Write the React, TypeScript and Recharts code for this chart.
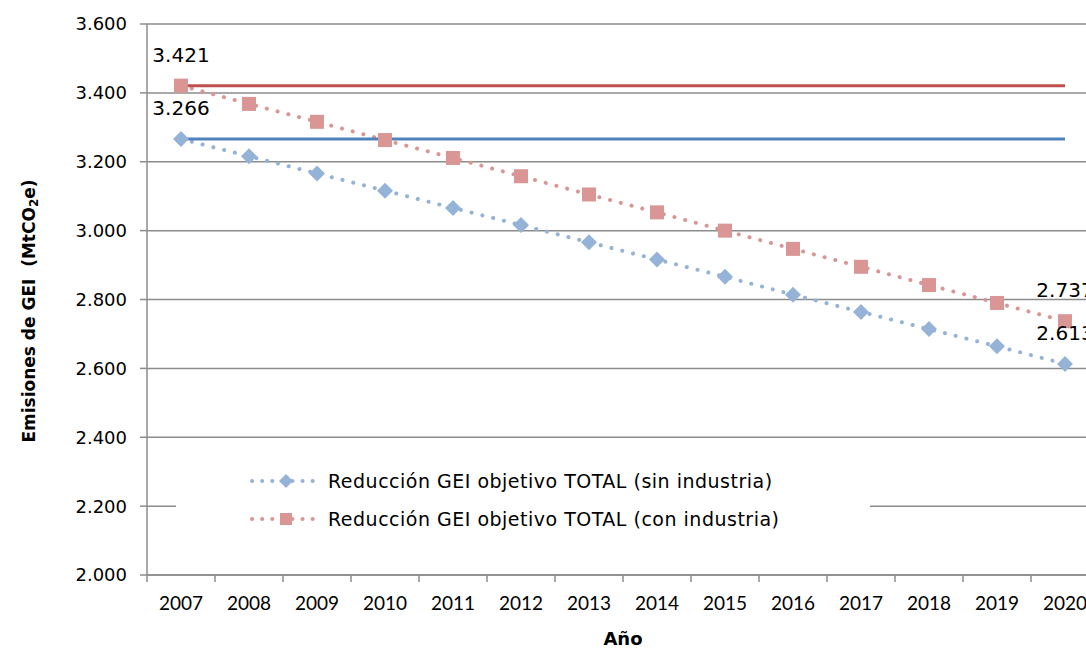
import React from "react";
import {
  LineChart,
  Line,
  XAxis,
  YAxis,
  CartesianGrid,
  LabelList,
} from "recharts";

// años del eje X
const years = [
  "2007", "2008", "2009", "2010", "2011", "2012", "2013",
  "2014", "2015", "2016", "2017", "2018", "2019", "2020",
];

// objetivo de reducción sin industria (diamantes azules)
const sinIndustria = [
  3266, 3216, 3166, 3116, 3066, 3016, 2966, 2916, 2866, 2814, 2764, 2714, 2664, 2613,
];

// objetivo de reducción con industria (cuadrados rojos)
const conIndustria = [
  3421, 3368, 3316, 3263, 3211, 3158, 3105, 3053, 3000, 2947, 2895, 2842, 2790, 2737,
];

// niveles de referencia 2007 (líneas horizontales)
const baseSin = 3266;
const baseCon = 3421;

const yTicks = [2000, 2200, 2400, 2600, 2800, 3000, 3200, 3400, 3600];
const xEdges = [0, 1, 2, 3, 4, 5, 6, 7, 8, 9, 10, 11, 12, 13, 14];

const FONT = "'DejaVu Sans', 'Liberation Sans', sans-serif";
const NARROW = "Lato, 'Liberation Sans', sans-serif";
const BLUE_DOT = "#95B3D7";
const RED_DOT = "#D99694";
const BLUE = "#4F81BD";
const RED = "#C0504D";
const GRID = "#8C8C8C";
const HALF_CAT = 34; // medio ancho de categoría en px

const data = years.map((y, i) => ({
  x: i + 0.5,
  year: y,
  sin: sinIndustria[i],
  con: conIndustria[i],
  baseSin,
  baseCon,
}));

const fmt = (v: number) => {
  const s = String(Math.round(v));
  return s.length > 3 ? s.slice(0, s.length - 3) + "." + s.slice(-3) : s;
};

const Diamond = (props: any) => {
  const { cx, cy } = props;
  if (cx == null || cy == null) return null;
  const r = 8;
  return (
    <path
      d={`M${cx},${cy - r} L${cx + r},${cy} L${cx},${cy + r} L${cx - r},${cy} Z`}
      fill={BLUE_DOT}
    />
  );
};

const Square = (props: any) => {
  const { cx, cy } = props;
  if (cx == null || cy == null) return null;
  const r = 7;
  return <rect x={cx - r} y={cy - r} width={2 * r} height={2 * r} fill={RED_DOT} />;
};

const YearTick = (props: any) => {
  const { x, y, payload } = props;
  const i = payload.value;
  if (i >= years.length) return null;
  return (
    <text
      x={x + HALF_CAT}
      y={y + 26}
      textAnchor="middle"
      fontFamily={NARROW}
      fontSize={19}
      fill="#000"
    >
      {years[i]}
    </text>
  );
};

const EndLabel = (props: any) => {
  const { x, y, value, index } = props;
  if (index !== 0 && index !== years.length - 1) return null;
  return (
    <text
      x={x}
      y={y - 24}
      textAnchor="middle"
      fontFamily={FONT}
      fontSize={20}
      fill="#000"
    >
      {fmt(value)}
    </text>
  );
};

const YTitle = () => {
  const cx = 29;
  const cy = 311;
  return (
    <text
      x={cx}
      y={cy}
      transform={`rotate(-90, ${cx}, ${cy})`}
      textAnchor="middle"
      dominantBaseline="central"
      fontFamily={FONT}
      fontWeight="bold"
      fontSize={17}
      fill="#000"
    >
      Emisiones de GEI {"\u00a0"}(MtCO
      <tspan fontSize={12} dy={5}>2</tspan>
      <tspan dy={-5}>e)</tspan>
    </text>
  );
};

const LegendRow = ({ color, marker, text }: { color: string; marker: "d" | "s"; text: string }) => (
  <div style={{ display: "flex", alignItems: "center", height: 38 }}>
    <svg width={76} height={20} style={{ marginRight: 4 }}>
      <line
        x1={4}
        y1={10}
        x2={72}
        y2={10}
        stroke={color}
        strokeWidth={4}
        strokeDasharray="0.1 10"
        strokeLinecap="round"
      />
      {marker === "d" ? (
        <path d="M38,3 L45,10 L38,17 L31,10 Z" fill={color} />
      ) : (
        <rect x={32} y={4} width={12} height={12} fill={color} />
      )}
    </svg>
    <span style={{ whiteSpace: "nowrap" }}>{text}</span>
  </div>
);

export default function App() {
  return (
    <div
      style={{
        position: "fixed",
        left: 0,
        top: 0,
        width: 1086,
        height: 649,
        overflow: "hidden",
        background: "#fff",
      }}
    >
      <LineChart
        width={1110}
        height={649}
        data={data}
        margin={{ top: 24, right: 11, bottom: 0, left: 0 }}
      >
        <CartesianGrid vertical={false} stroke={GRID} strokeWidth={1.5} />
        <XAxis
          dataKey="x"
          type="number"
          domain={[0, 14]}
          ticks={xEdges}
          interval={0}
          height={74}
          tick={<YearTick />}
          tickSize={7}
          axisLine={{ stroke: GRID, strokeWidth: 1.5 }}
          tickLine={{ stroke: GRID, strokeWidth: 1.5 }}
          label={{
            value: "Año",
            position: "insideBottom",
            offset: 4,
            fontFamily: FONT,
            fontWeight: "bold",
            fontSize: 18,
            fill: "#000",
          }}
        />
        <YAxis
          width={147}
          domain={[2000, 3600]}
          ticks={yTicks}
          interval={0}
          tickFormatter={fmt}
          tickSize={7}
          tickMargin={13}
          tick={{ fontFamily: FONT, fontSize: 18, fill: "#000" }}
          axisLine={{ stroke: GRID, strokeWidth: 1.5 }}
          tickLine={{ stroke: GRID, strokeWidth: 1.5 }}
          label={<YTitle />}
        />
        <Line
          dataKey="sin"
          type="linear"
          stroke={BLUE_DOT}
          strokeWidth={4}
          strokeDasharray="0.1 11"
          strokeLinecap="round"
          dot={<Diamond />}
          activeDot={false}
          isAnimationActive={false}
        >
          <LabelList dataKey="sin" content={<EndLabel />} />
        </Line>
        <Line
          dataKey="con"
          type="linear"
          stroke={RED_DOT}
          strokeWidth={4}
          strokeDasharray="0.1 11"
          strokeLinecap="round"
          dot={<Square />}
          activeDot={false}
          isAnimationActive={false}
        >
          <LabelList dataKey="con" content={<EndLabel />} />
        </Line>
        <Line
          dataKey="baseSin"
          type="linear"
          stroke={BLUE}
          strokeWidth={3}
          dot={false}
          activeDot={false}
          isAnimationActive={false}
        />
        <Line
          dataKey="baseCon"
          type="linear"
          stroke={RED}
          strokeWidth={3}
          dot={false}
          activeDot={false}
          isAnimationActive={false}
        />
      </LineChart>
      <div
        style={{
          position: "absolute",
          left: 176,
          top: 446,
          width: 694,
          height: 112,
          background: "#fff",
          fontFamily: FONT,
          fontSize: 19,
          letterSpacing: 0.5,
          color: "#000",
          paddingLeft: 72,
          paddingTop: 16,
          boxSizing: "border-box",
        }}
      >
        <LegendRow color={BLUE_DOT} marker="d" text="Reducción GEI objetivo TOTAL (sin industria)" />
        <LegendRow color={RED_DOT} marker="s" text="Reducción GEI objetivo TOTAL (con industria)" />
      </div>
    </div>
  );
}
